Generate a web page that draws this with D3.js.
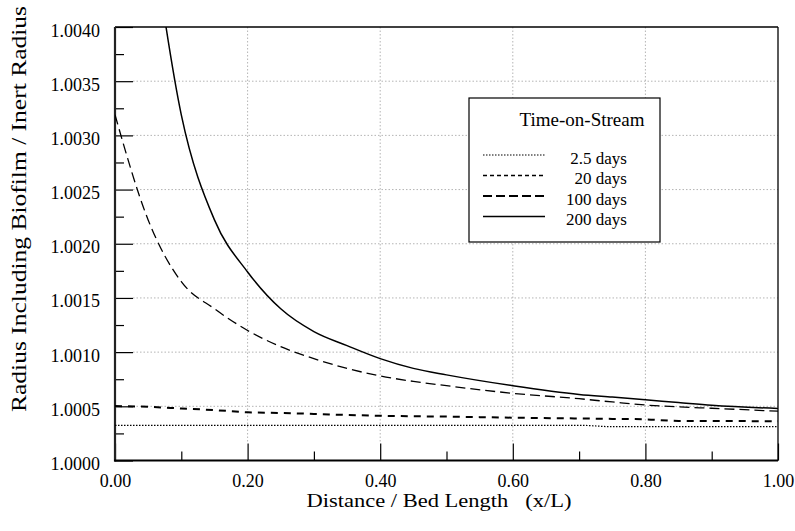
<!DOCTYPE html>
<html>
<head>
<meta charset="utf-8">
<script src="https://cdn.jsdelivr.net/npm/d3@7"></script>
<style>
  body { margin: 0; background: #fff; }
</style>
</head>
<body>
<div id="chart"></div>
<script>
// x = distance / bed length, values are (radius ratio - 1) * 1e4
var xs_dense = [0.00, 0.05, 0.10, 0.15, 0.20, 0.25, 0.30, 0.35, 0.40, 0.45, 0.50, 0.60, 0.70, 0.75, 0.80, 0.85, 0.90, 1.00];

var days_2_5 = [3.25, 3.25, 3.25, 3.25, 3.25, 3.25, 3.25, 3.25, 3.25, 3.25, 3.25, 3.25, 3.25, 3.12, 3.12, 3.12, 3.12, 3.12];
var days_20  = [5.03, 4.95, 4.80, 4.65, 4.45, 4.38, 4.30, 4.20, 4.13, 4.08, 4.05, 3.95, 3.88, 3.84, 3.80, 3.65, 3.64, 3.63];
var days_100 = [31.9, 22.2, 16.5, 14.0, 12.0, 10.5, 9.4, 8.5, 7.8, 7.3, 6.9, 6.2, 5.7, 5.4, 5.12, 4.95, 4.82, 4.55];
var days_200 = [51.2, 31.9, 22.2, 17.4, 14.0, 11.9, 10.6, 9.4, 8.5, 7.9, 6.9, 6.1, 5.85, 5.6, 5.35, 5.1, 4.8];
var xs_200   = [0.05, 0.10, 0.15, 0.20, 0.25, 0.30, 0.35, 0.40, 0.45, 0.50, 0.60, 0.70, 0.75, 0.80, 0.85, 0.90, 1.00];

var series_names = ["2.5 days", "20 days", "100 days", "200 days"];

var x_major = [0, 0.2, 0.4, 0.6, 0.8, 1.0];
var x_minor = [0.1, 0.3, 0.5, 0.7, 0.9];
var y_major = [1.0000, 1.0005, 1.0010, 1.0015, 1.0020, 1.0025, 1.0030, 1.0035, 1.0040];
var y_minor = [1.00025, 1.00075, 1.00125, 1.00175, 1.00225, 1.00275, 1.00325, 1.00375];

var font_name = "Tinos";

var full_width = 795,
    full_height = 531;

var margin = { top: 27, right: 17, bottom: 70.5, left: 115 };
var width = full_width - margin.left - margin.right;
var height = full_height - margin.top - margin.bottom;

var x = d3.scaleLinear().domain([0, 1]).range([0, width]);
var y = d3.scaleLinear().domain([1.0, 1.004]).range([height, 0]);

var svg = d3.select("#chart").append("svg")
    .attr("width", full_width)
    .attr("height", full_height);

var g = svg.append("g")
    .attr("transform", "translate(" + margin.left + "," + margin.top + ")");

// dotted grid
var grid_style = function(sel) {
    sel.attr("stroke", "#b4b4b4").attr("stroke-width", 1).attr("stroke-dasharray", "1.5,2");
};
g.selectAll(".hgrid")
    .data(y_major.filter(function(d) { return d > 1.0 && d < 1.004; }))
    .enter().append("line")
    .attr("x1", 18).attr("x2", width)
    .attr("y1", function(d) { return y(d); })
    .attr("y2", function(d) { return y(d); })
    .call(grid_style);
g.selectAll(".vgrid")
    .data(x_major.filter(function(d) { return d > 0 && d < 1; }))
    .enter().append("line")
    .attr("x1", function(d) { return x(d); })
    .attr("x2", function(d) { return x(d); })
    .attr("y1", 0).attr("y2", height - 17)
    .call(grid_style);

// axes, ticks point inward
var yAxis = g.append("g")
    .call(d3.axisLeft(y).tickValues(y_major).tickSize(-18).tickPadding(15)
        .tickFormat(d3.format(".4f")));
var yMinor = g.append("g")
    .call(d3.axisLeft(y).tickValues(y_minor).tickSize(-9).tickFormat(""));
var xAxis = g.append("g")
    .attr("transform", "translate(0," + height + ")")
    .call(d3.axisBottom(x).tickValues(x_major).tickSize(-17).tickPadding(13.5)
        .tickFormat(d3.format(".2f")));
var xMinor = g.append("g")
    .attr("transform", "translate(0," + height + ")")
    .call(d3.axisBottom(x).tickValues(x_minor).tickSize(-9).tickFormat(""));

[yAxis, yMinor, xAxis, xMinor].forEach(function(a) {
    a.attr("font-family", null).attr("font-size", null);
    a.select(".domain").remove();
    a.selectAll("line").attr("stroke", "#000").attr("stroke-width", 1.2);
    a.selectAll("text").style("font-family", font_name).style("font-size", "18px");
});
yAxis.selectAll("text").attr("dy", "0.5em");

// frame
g.append("line").attr("x1", 0).attr("x2", width).attr("y1", 0).attr("y2", 0)
    .attr("stroke", "#000").attr("stroke-width", 1.5);
g.append("line").attr("x1", width).attr("x2", width).attr("y1", 0).attr("y2", height)
    .attr("stroke", "#000").attr("stroke-width", 1.3);
g.append("line").attr("x1", 0).attr("x2", 0).attr("y1", 0).attr("y2", height + 1)
    .attr("stroke", "#222").attr("stroke-width", 2.2);
g.append("line").attr("x1", -1).attr("x2", width).attr("y1", height).attr("y2", height)
    .attr("stroke", "#000").attr("stroke-width", 2);

// curves
svg.append("defs").append("clipPath").attr("id", "clip")
    .append("rect").attr("width", width).attr("height", height);

var line = d3.line()
    .curve(d3.curveMonotoneX)
    .x(function(d) { return x(d[0]); })
    .y(function(d) { return y(1 + d[1] / 1e4); });

var curves = [
    { xs: xs_dense, ys: days_2_5, width: 1.2, dash: "1.5,1.5" },
    { xs: xs_dense, ys: days_20, width: 2, dash: "7,6" },
    { xs: xs_dense, ys: days_100, width: 1.3, dash: "10,5" },
    { xs: xs_200, ys: days_200, width: 1.5, dash: null }
];

var plot = g.append("g").attr("clip-path", "url(#clip)");
curves.forEach(function(c) {
    plot.append("path")
        .datum(c.xs.map(function(v, i) { return [v, c.ys[i]]; }))
        .attr("d", line)
        .attr("fill", "none")
        .attr("stroke", "#000")
        .attr("stroke-width", c.width)
        .attr("stroke-dasharray", c.dash);
});

// legend
var legend = svg.append("g");
legend.append("rect")
    .attr("x", 469).attr("y", 98).attr("width", 191).attr("height", 144)
    .attr("fill", "#fff").attr("stroke", "#000").attr("stroke-width", 1.2);
legend.append("text")
    .attr("x", 582).attr("y", 126)
    .attr("text-anchor", "middle")
    .style("font-family", font_name)
    .style("font-size", "19px")
    .text("Time-on-Stream");

var legend_styles = [
    { width: 1.2, dash: "1.5,1.5" },
    { width: 1.3, dash: "4,3" },
    { width: 2, dash: "9,4" },
    { width: 1.5, dash: null }
];
series_names.forEach(function(name, i) {
    var ly = 155 + i * 20.5;
    legend.append("line")
        .attr("x1", 483).attr("x2", 545)
        .attr("y1", ly).attr("y2", ly)
        .attr("stroke", "#000")
        .attr("stroke-width", legend_styles[i].width)
        .attr("stroke-dasharray", legend_styles[i].dash);
    legend.append("text")
        .attr("x", 627).attr("y", ly + 8.5)
        .attr("text-anchor", "end")
        .style("font-family", font_name)
        .style("font-size", "17px")
        .text(name);
});

// axis labels
svg.append("text")
    .attr("x", 439).attr("y", 507)
    .attr("text-anchor", "middle")
    .attr("textLength", 265)
    .attr("lengthAdjust", "spacingAndGlyphs")
    .style("font-family", font_name)
    .style("font-size", "18px")
    .style("white-space", "pre")
    .text("Distance / Bed Length   (x/L)");

svg.append("text")
    .attr("transform", "translate(26,209) rotate(-90)")
    .attr("text-anchor", "middle")
    .attr("textLength", 406)
    .attr("lengthAdjust", "spacingAndGlyphs")
    .style("font-family", font_name)
    .style("font-size", "21px")
    .text("Radius Including Biofilm / Inert Radius");
</script>
</body>
</html>
